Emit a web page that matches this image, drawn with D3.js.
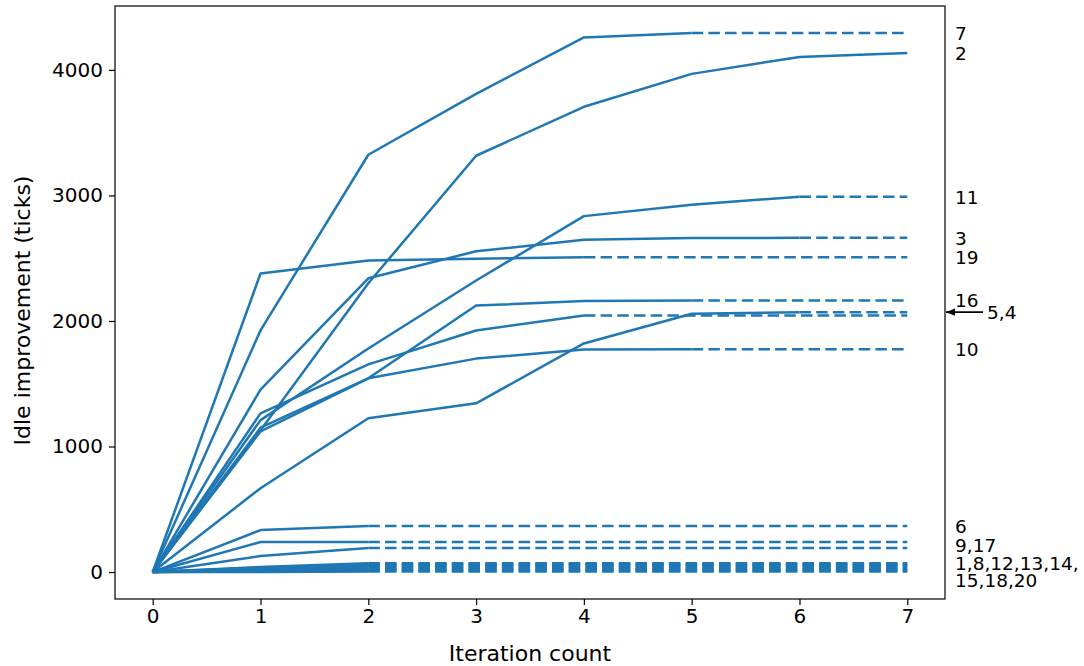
<!DOCTYPE html>
<html>
<head>
<meta charset="utf-8">
<script src="https://cdnjs.cloudflare.com/ajax/libs/d3/7.8.5/d3.min.js"></script>
<style>
  body { margin: 0; background: #fff; }
  svg { display: block; }
  text { font-family: "DejaVu Sans", sans-serif; fill: #000; }
</style>
</head>
<body>
<div id="chart"></div>
<script>
// iteration index on x, idle improvement per run on y
const iterations = [0, 1, 2, 3, 4, 5, 6, 7];

const run1  = [0, 15, 30];
const run2  = [0, 1130, 2300, 3316, 3706, 3968, 4103, 4135];
const run3  = [0, 1453, 2340, 2555, 2646, 2660, 2662];
const run4  = [0, 1264, 1654, 1924, 2044];
const run5  = [0, 668, 1225, 1344, 1821, 2057, 2070];
const run6  = [0, 334, 366];
const run7  = [0, 1925, 3324, 3809, 4258, 4294];
const run8  = [0, 30, 55];
const run9  = [0, 239, 240];
const run10 = [0, 1120, 1543, 1700, 1773, 1775];
const run11 = [0, 1210, 1781, 2322, 2835, 2926, 2990];
const run12 = [0, 5, 10];
const run13 = [0, 25, 45];
const run14 = [0, 40, 70];
const run15 = [0, 10, 20];
const run16 = [0, 1150, 1543, 2123, 2158, 2162];
const run17 = [0, 127, 191];
const run18 = [0, 35, 62];
const run19 = [0, 2378, 2481, 2495, 2507];
const run20 = [0, 0, 5];

const runs = [run1, run2, run3, run4, run5, run6, run7, run8, run9, run10,
              run11, run12, run13, run14, run15, run16, run17, run18, run19, run20];

// labels on the right, with the y value each sits at
const labelTexts  = ["7", "2", "11", "3", "19", "16", "10", "6", "9,17", "1,8,12,13,14,|15,18,20"];
const labelValues = [4294, 4135, 2990, 2662, 2507, 2168, 1773, 366, 215, 5];
const arrowText = "5,4";
const arrowValue = 2070;

const yTicks = [0, 1000, 2000, 3000, 4000];

const W = 1084, H = 666;
const margin = { top: 6, right: 139, bottom: 67, left: 115 };
const width = W - margin.left - margin.right;
const height = H - margin.top - margin.bottom;
const blue = "#1f77b4";

const svg = d3.select("#chart").append("svg")
    .attr("width", W)
    .attr("height", H);

svg.append("defs").append("marker")
    .attr("id", "head")
    .attr("viewBox", "0 0 10 10")
    .attr("refX", 10).attr("refY", 5)
    .attr("markerWidth", 9).attr("markerHeight", 9)
    .attr("markerUnits", "userSpaceOnUse")
    .attr("orient", "auto")
    .append("path")
    .attr("d", "M0,1 L10,5 L0,9 Z")
    .attr("fill", "#000");

const g = svg.append("g")
    .attr("transform", `translate(${margin.left},${margin.top})`);

// matplotlib style 5% padding
const xMin = d3.min(iterations), xMax = d3.max(iterations);
const xPad = (xMax - xMin) * 0.05;
const x = d3.scaleLinear().domain([xMin - xPad, xMax + xPad]).range([0, width]);

const yMax = d3.max(runs, r => d3.max(r));
const yPad = yMax * 0.05;
const y = d3.scaleLinear().domain([-yPad, yMax + yPad]).range([height, 0]);

const line = d3.line()
    .x((d, i) => x(iterations[i]))
    .y(d => y(d));

// dashed continuation from the last iteration to the end
g.selectAll("line.tail")
    .data(runs.filter(r => r.length < iterations.length))
    .enter().append("line")
    .attr("class", "tail")
    .attr("x1", r => x(iterations[r.length - 1]))
    .attr("x2", x(xMax))
    .attr("y1", r => y(r[r.length - 1]))
    .attr("y2", r => y(r[r.length - 1]))
    .attr("stroke", blue)
    .attr("stroke-width", 2.5)
    .attr("stroke-dasharray", "11.5,5.2");

g.selectAll("path.run")
    .data(runs)
    .enter().append("path")
    .attr("class", "run")
    .attr("d", line)
    .attr("fill", "none")
    .attr("stroke", blue)
    .attr("stroke-width", 2.5)
    .attr("stroke-linejoin", "round");

// frame
g.append("rect")
    .attr("width", width).attr("height", height)
    .attr("fill", "none").attr("stroke", "#000").attr("stroke-width", 1.2);

const xAxis = g.append("g")
    .attr("transform", `translate(0,${height})`)
    .call(d3.axisBottom(x).tickValues(iterations).tickSize(6).tickPadding(4).tickFormat(d3.format("d")));
const yAxis = g.append("g")
    .call(d3.axisLeft(y).tickValues(yTicks).tickSize(6).tickPadding(6).tickFormat(d3.format("d")));

[xAxis, yAxis].forEach(a => {
    a.select(".domain").remove();
    a.selectAll(".tick line").attr("stroke", "#000").attr("stroke-width", 1.2);
    a.selectAll(".tick text").attr("font-size", 20).attr("font-family", "DejaVu Sans");
});

g.append("text")
    .attr("x", width / 2)
    .attr("y", height + 62)
    .attr("text-anchor", "middle")
    .attr("font-size", 22)
    .text("Iteration count");

g.append("text")
    .attr("transform", `translate(${-85},${height / 2 + 8}) rotate(-90)`)
    .attr("text-anchor", "middle")
    .attr("font-size", 22)
    .text("Idle improvement (ticks)");

// right hand labels
const labels = g.selectAll("text.lab")
    .data(labelTexts)
    .enter().append("text")
    .attr("class", "lab")
    .attr("font-size", 18.5)
    .attr("x", width + 10)
    .attr("y", (d, i) => y(labelValues[i]));

labels.each(function (d) {
    const parts = d.split("|");
    const t = d3.select(this);
    const lh = 17;
    parts.forEach((p, k) => {
        t.append("tspan")
            .attr("x", width + 10)
            .attr("dy", k === 0 ? (-(parts.length - 1) * lh / 2 + 7) : lh)
            .text(p);
    });
});

g.append("line")
    .attr("x1", width + 38).attr("x2", width + 1)
    .attr("y1", y(arrowValue)).attr("y2", y(arrowValue))
    .attr("stroke", "#000").attr("stroke-width", 1.6)
    .attr("marker-end", "url(#head)");

g.append("text")
    .attr("font-size", 18.5)
    .attr("x", width + 42)
    .attr("y", y(arrowValue) + 7)
    .text(arrowText);
</script>
</body>
</html>
